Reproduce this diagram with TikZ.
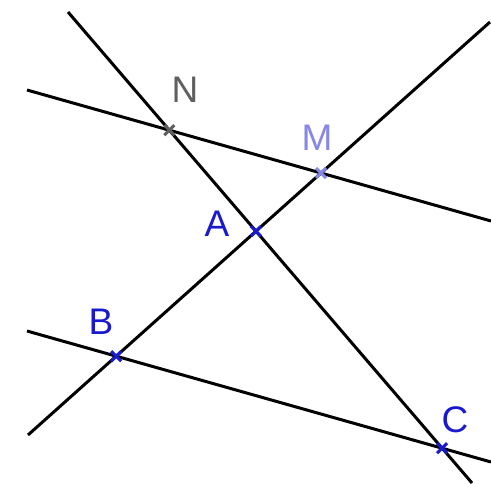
\documentclass[tikz,border=0pt]{standalone}
\usepackage{fontspec}
\setmainfont{Liberation Sans}
\begin{document}
\begin{tikzpicture}[x=1pt,y=-1pt,
  ln/.style={line width=3pt,black},
  lbl/.style={font=\fontsize{37}{37}\selectfont,inner sep=0pt},
  mk/.style={line width=3pt}]
\useasboundingbox (0,0) rectangle (491,483);
\fill[white] (0,0) rectangle (491,483);
% line end points
\coordinate (p1) at (68,12);   \coordinate (p2) at (472,483);
\coordinate (q1) at (28,435);  \coordinate (q2) at (490,22);
\coordinate (r1) at (27,90);   \coordinate (r2) at (491,221);
\coordinate (s1) at (27,331);  \coordinate (s2) at (491,462);
% points
\coordinate (N) at (intersection of p1--p2 and r1--r2);
\coordinate (M) at (intersection of q1--q2 and r1--r2);
\coordinate (A) at (intersection of p1--p2 and q1--q2);
\coordinate (B) at (intersection of q1--q2 and s1--s2);
\coordinate (C) at (intersection of p1--p2 and s1--s2);
% lines
\draw[ln] (p1) -- (p2);
\draw[ln] (q1) -- (q2);
\draw[ln] (r1) -- (r2);
\draw[ln] (s1) -- (s2);
% marks
\definecolor{ptblue}{RGB}{25,25,205}
\definecolor{ptlight}{RGB}{135,135,230}
\definecolor{ptgray}{RGB}{95,95,95}
\foreach \p/\c in {A/ptblue,B/ptblue,C/ptblue,M/ptlight,N/ptgray}{
  \draw[mk,\c] ([shift={(-5,-5)}]\p) -- ([shift={(5,5)}]\p);
  \draw[mk,\c] ([shift={(-5,5)}]\p) -- ([shift={(5,-5)}]\p);
}
% labels
\node[lbl,text=ptgray] (lN) at (185,90) {N};
\node[lbl,text=ptlight] (lM) at (317,138) {M};
\node[lbl,text=ptblue] (lA) at (217,224) {A};
\node[lbl,text=ptblue] (lB) at (101,322) {B};
\node[lbl,text=ptblue] (lC) at (455,420) {C};
\end{tikzpicture}
\end{document}
